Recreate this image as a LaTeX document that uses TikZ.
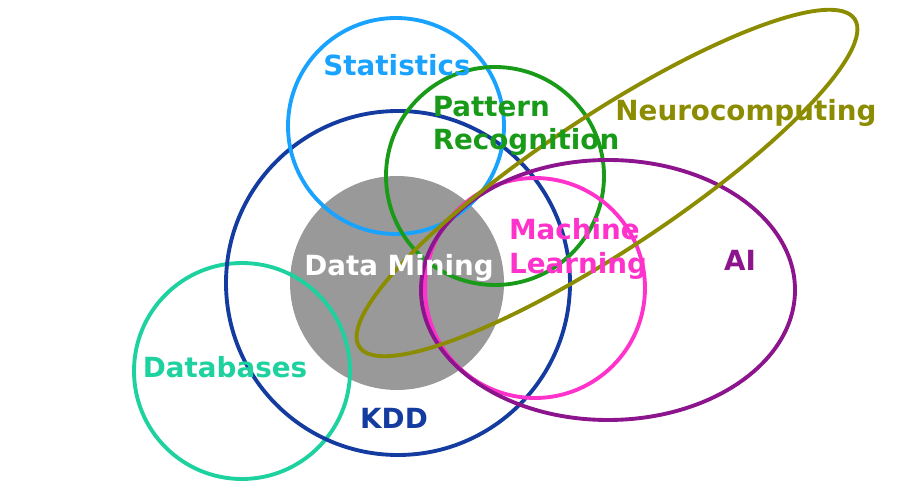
\documentclass[tikz,border=0pt]{standalone}
\usepackage{fontspec}
\setmainfont{DejaVu Sans}
\usetikzlibrary{positioning}

\definecolor{statblue}{RGB}{25,163,255}
\definecolor{patgreen}{RGB}{25,155,25}
\definecolor{kddblue}{RGB}{20,60,160}
\definecolor{dbteal}{RGB}{30,210,160}
\definecolor{mlpink}{RGB}{255,51,204}
\definecolor{aipurple}{RGB}{140,20,140}
\definecolor{neuroolive}{RGB}{140,140,0}
\definecolor{dmgray}{RGB}{153,153,153}

\begin{document}
\begin{tikzpicture}[
    x=0.02cm, y=0.02cm,
    field/.style={line width=2.2pt},
    tag/.style={font=\fontsize{15.8}{19}\selectfont\bfseries, inner sep=0pt},
    twotag/.style={tag, align=left}
]
    \useasboundingbox (0,0) rectangle (907,-486);

    % Data Mining core
    \fill[dmgray] (397,-283) circle[radius=107];

    % Fields
    \draw[field, dbteal]     (242,-371) circle[radius=108];
    \draw[field, kddblue]    (398,-283) circle[radius=172];
    \draw[field, statblue]   (396,-126) circle[radius=108];
    \draw[field, patgreen]   (495,-176) circle[radius=109];
    \draw[field, mlpink]     (535,-288) circle[radius=110];
    \draw[field, aipurple]   (608,-290) ellipse[x radius=187, y radius=130];
    \draw[field, neuroolive] (607,-183) ellipse[x radius=297, y radius=67, rotate=33.5];

    % Names
    \node[tag, text=statblue]   (stats) at (397,-65)  {Statistics};
    \node[twotag, text=patgreen] (pattern) at (526,-126) {Pattern\\Recognition};
    \node[tag, text=neuroolive] (neuro) at (746,-113) {Neurocomputing};
    \node[twotag, text=mlpink]  (ml) at (578,-249) {Machine\\Learning};
    \node[tag, text=aipurple]   (ai) at (740,-260) {AI};
    \node[tag, text=white]      (dm) at (399,-268) {Data Mining};
    \node[tag, text=dbteal]     (db) at (225,-367) {Databases};
    \node[tag, text=kddblue]    (kdd) at (394,-418) {KDD};
\end{tikzpicture}
\end{document}
